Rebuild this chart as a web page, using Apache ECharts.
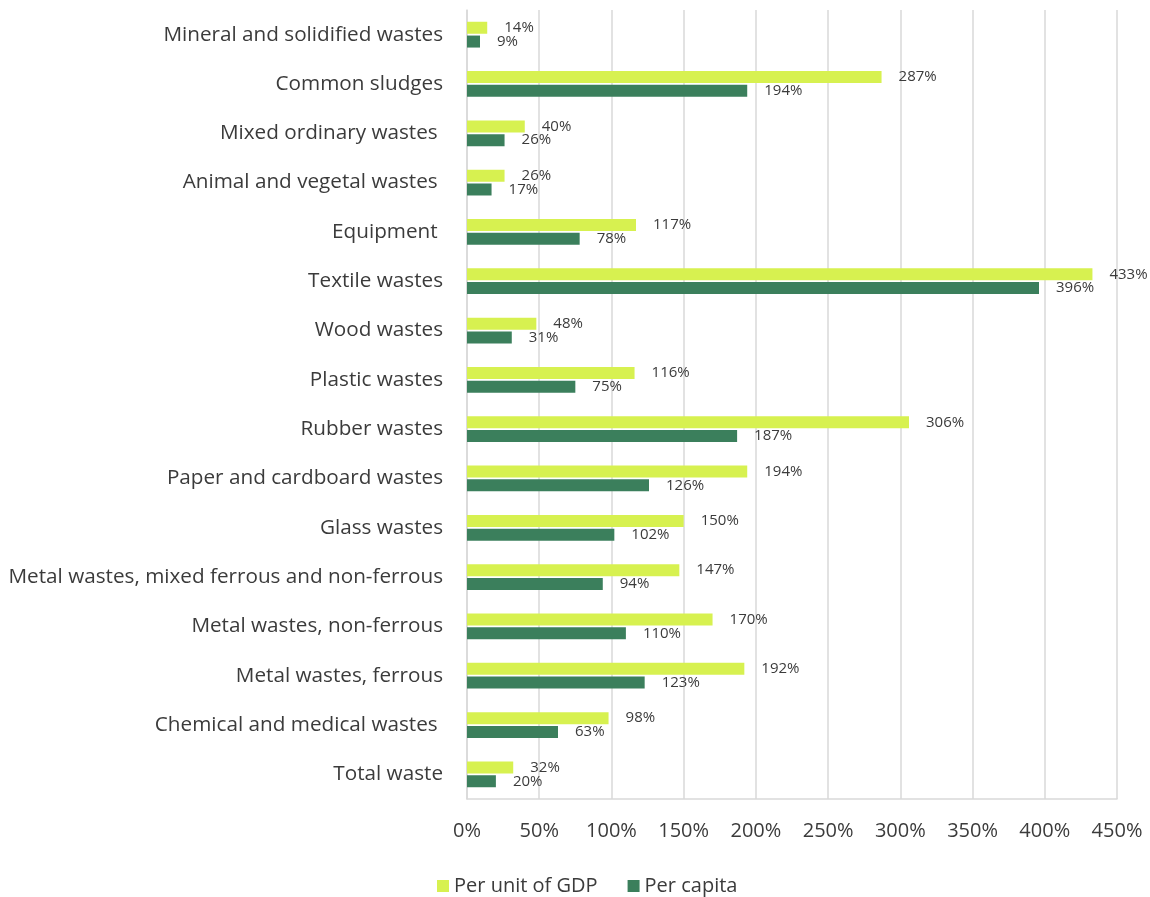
<!DOCTYPE html>
<html>
<head>
<meta charset="utf-8">
<script src="https://cdn.jsdelivr.net/npm/echarts@6/dist/echarts.min.js"></script>
<style>
  html, body { margin: 0; padding: 0; background: #ffffff; }
  #chart { width: 1150px; height: 897px; }
</style>
</head>
<body>
<div id="chart"></div>
<script>
// Waste categories, listed top to bottom
const categories = [
  'Mineral and solidified wastes',
  'Common sludges',
  'Mixed ordinary wastes ',
  'Animal and vegetal wastes ',
  'Equipment ',
  'Textile wastes',
  'Wood wastes',
  'Plastic wastes',
  'Rubber wastes',
  'Paper and cardboard wastes',
  'Glass wastes',
  'Metal wastes, mixed ferrous and non-ferrous',
  'Metal wastes, non-ferrous',
  'Metal wastes, ferrous',
  'Chemical and medical wastes ',
  'Total waste'
];

// Change in waste generation, %
const perUnitOfGDP = [14, 287, 40, 26, 117, 433, 48, 116, 306, 194, 150, 147, 170, 192, 98, 32];
const perCapita    = [9, 194, 26, 17, 78, 396, 31, 75, 187, 126, 102, 94, 110, 123, 63, 20];

const seriesNames = ['Per unit of GDP', 'Per capita'];
const xTicks = { min: 0, max: 450, step: 50 };

const FONT = '"Open Sans", "Liberation Sans", sans-serif';
const TEXT = '#3b3b3b';
const GRID = '#d9d9d9';

const chart = echarts.init(document.getElementById('chart'), null, { renderer: 'canvas' });

const labelStyle = {
  show: true,
  position: 'right',
  distance: 17,
  formatter: '{c}%',
  color: TEXT,
  fontFamily: FONT,
  fontSize: 15
};

chart.setOption({
  animation: false,
  backgroundColor: '#ffffff',
  textStyle: { fontFamily: FONT, color: TEXT },
  grid: { left: 467, right: 33, top: 10, bottom: 98, containLabel: false },
  xAxis: {
    type: 'value',
    min: xTicks.min,
    max: xTicks.max,
    interval: xTicks.step,
    axisLine: { show: true, lineStyle: { color: GRID, width: 1.5 } },
    axisTick: { show: false },
    axisLabel: {
      formatter: '{value}%',
      color: TEXT,
      fontFamily: FONT,
      fontSize: 20,
      margin: 22
    },
    splitLine: { show: true, lineStyle: { color: GRID, width: 1.5 } }
  },
  yAxis: {
    type: 'category',
    inverse: true,
    data: categories,
    axisLine: { show: true, lineStyle: { color: GRID, width: 1.5 } },
    axisTick: { show: false },
    axisLabel: {
      color: TEXT,
      fontFamily: FONT,
      fontSize: 20.7,
      margin: 24
    }
  },
  legend: {
    left: 432,
    top: 871,
    itemWidth: 12,
    itemHeight: 12,
    itemGap: 30,
    icon: 'rect',
    textStyle: { color: TEXT, fontFamily: FONT, fontSize: 20 },
    data: seriesNames
  },
  series: [
    {
      name: seriesNames[0],
      type: 'bar',
      data: perUnitOfGDP,
      barWidth: 12,
      barGap: '15%',
      itemStyle: { color: '#d7f150' },
      label: labelStyle
    },
    {
      name: seriesNames[1],
      type: 'bar',
      data: perCapita,
      barWidth: 12,
      barGap: '15%',
      itemStyle: { color: '#3b7f5c' },
      label: labelStyle
    }
  ]
});
</script>
</body>
</html>
